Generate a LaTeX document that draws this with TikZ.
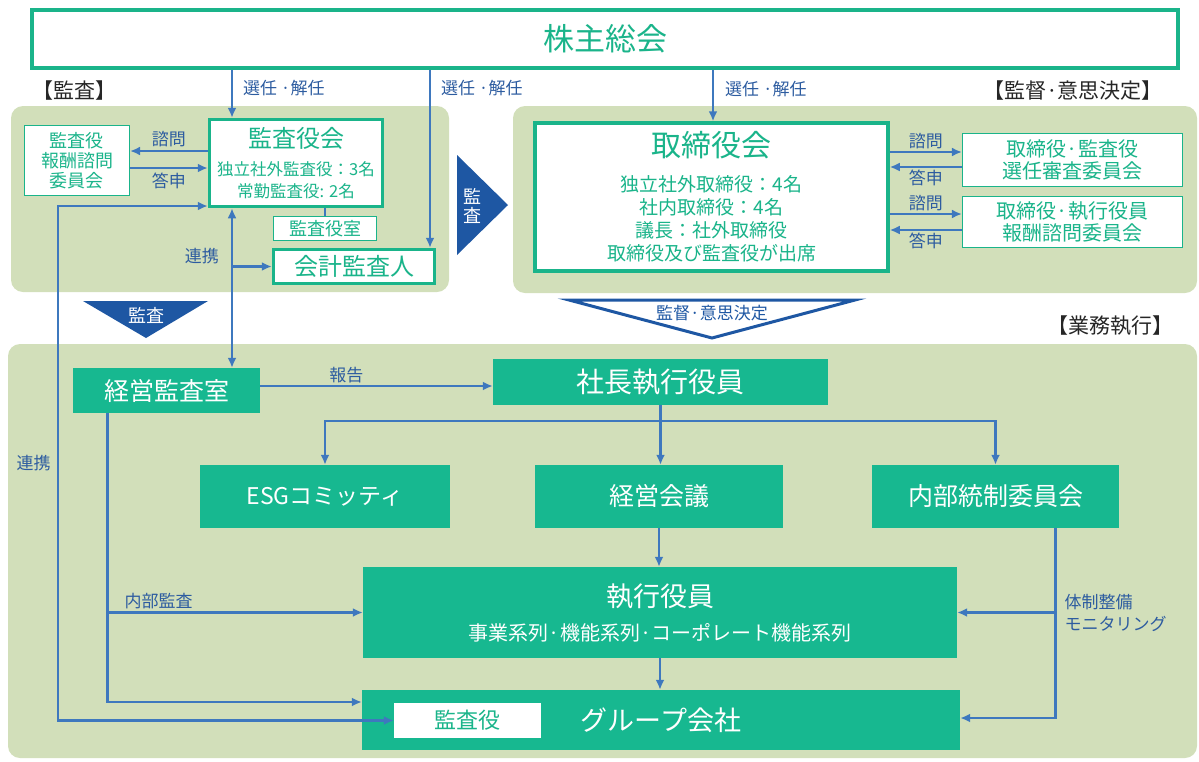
\documentclass[tikz,border=0pt]{standalone}
\usepackage{fontspec}
\setmainfont{Noto Sans CJK JP}
\usepackage{tikz}
\usetikzlibrary{positioning}
\usetikzlibrary{arrows.meta}
\definecolor{tealColor}{RGB}{23,184,144}
\definecolor{borderColor}{RGB}{26,180,138}
\definecolor{panelColor}{RGB}{210,223,186}
\definecolor{arrowColor}{RGB}{62,120,190}
\definecolor{labelColor}{RGB}{45,92,160}
\definecolor{triColor}{RGB}{30,87,163}

\begin{document}
\begin{tikzpicture}[x=1pt,y=-1pt]

            \tikzstyle{greenFrame} = [draw=borderColor, line width=3.5pt, fill=white, text=borderColor, inner sep=0pt, align=center];
            \tikzstyle{thinFrame} = [draw=borderColor, line width=1.2pt, fill=white, text=borderColor, inner sep=0pt, align=center];
            \tikzstyle{tealBox} = [fill=tealColor, text=white, inner sep=0pt, align=center];
            \tikzstyle{blueLine} = [arrowColor, line width=2.4pt];
            \tikzstyle{blueArrow} = [blueLine, -{Latex[length=10pt,width=9pt]}];
            \tikzstyle{blueArrows} = [blueLine, {Latex[length=10pt,width=9pt]}-{Latex[length=10pt,width=9pt]}];
            \tikzstyle{blueLabel} = [text=labelColor, font=\fontsize{17}{22}\selectfont, inner sep=2pt, align=left];
            \tikzstyle{headLabel} = [text=black!85, font=\fontsize{21}{21}\selectfont, inner sep=0pt];

            \useasboundingbox (0,0) rectangle (1199,761);

            \fill[panelColor, rounded corners=12pt] (11,106) rectangle (449,292);
            \fill[panelColor, rounded corners=12pt] (513,106) rectangle (1197,293);
            \fill[panelColor, rounded corners=12pt] (8,344) rectangle (1197,758);

            \node[greenFrame, minimum width=1146, minimum height=58, font=\fontsize{31}{31}\selectfont] (meeting) at (605,39) {株主総会};

            \node[headLabel] (auditHead) at (74,91) {【監査】};
            \node[headLabel] (superHead) at (1073,91) {【監督·意思決定】};
            \node[headLabel] (execHead) at (1110,326) {【業務執行】};

            \node[greenFrame, minimum width=173, minimum height=87, font=\fontsize{16.5}{22}\selectfont] (auditBoard) at (296,163)
              {{\fontsize{24}{24}\selectfont 監査役会}\\[6pt]独立社外監査役：3名\\常勤監査役: 2名};
            \node[thinFrame, minimum width=105, minimum height=70, font=\fontsize{18}{20}\selectfont] (auditComm) at (77,160.5) {監査役\\報酬諮問\\委員会};
            \node[thinFrame, minimum width=103, minimum height=24, font=\fontsize{18}{18}\selectfont] (auditRoom) at (325,228.5) {監査役室};
            \node[greenFrame, minimum width=161, minimum height=34, font=\fontsize{24}{24}\selectfont] (accountAuditor) at (354,266.5) {会計監査人};

            \node[greenFrame, minimum width=353, minimum height=148, font=\fontsize{19}{23}\selectfont] (board) at (711.5,197)
              {{\fontsize{30}{30}\selectfont 取締役会}\\[12pt]独立社外取締役：4名\\社内取締役：4名\\議長：社外取締役\\取締役及び監査役が出席};
            \node[thinFrame, minimum width=220, minimum height=53, font=\fontsize{20}{22}\selectfont] (nomComm) at (1072.5,160) {取締役·監査役\\選任審査委員会};
            \node[thinFrame, minimum width=220, minimum height=51, font=\fontsize{20}{22}\selectfont] (payComm) at (1072.5,222) {取締役·執行役員\\報酬諮問委員会};

            \fill[triColor] (457,155) -- (457,255) -- (508,205) -- cycle;
            \node[text=white, font=\fontsize{18}{19}\selectfont, align=center, inner sep=0pt] (auditMark) at (472,206) {監\\査};
            \fill[triColor] (83,301) -- (208,301) -- (146,338) -- cycle;
            \node[text=white, font=\fontsize{18}{18}\selectfont, inner sep=0pt] (auditMarkDown) at (146,315) {監査};
            \draw[triColor, line width=3pt, fill=white, line join=miter] (569,300) -- (855,300) -- (712,338) -- cycle;
            \node[text=triColor, font=\fontsize{17}{17}\selectfont, inner sep=0pt] (superMark) at (712,313) {監督·意思決定};

            \node[tealBox, minimum width=187, minimum height=45, font=\fontsize{25}{25}\selectfont] (mgmtAudit) at (166.5,390.5) {経営監査室};
            \node[tealBox, minimum width=335, minimum height=46, font=\fontsize{28}{28}\selectfont] (president) at (660.5,382) {社長執行役員};
            \node[tealBox, minimum width=250, minimum height=63, font=\fontsize{23}{23}\selectfont] (esg) at (325,496.5) {ESGコミッティ};
            \node[tealBox, minimum width=248, minimum height=63, font=\fontsize{25}{25}\selectfont] (mgmtMeeting) at (659,496.5) {経営会議};
            \node[tealBox, minimum width=247, minimum height=63, font=\fontsize{25}{25}\selectfont] (internalCtrl) at (995.5,496.5) {内部統制委員会};
            \node[tealBox, minimum width=594, minimum height=91, font=\fontsize{20}{24}\selectfont] (officers) at (660,612.5)
              {{\fontsize{27}{27}\selectfont 執行役員}\\[10pt]事業系列·機能系列·コーポレート機能系列};
            \node[tealBox, minimum width=598, minimum height=60, font=\fontsize{27}{27}\selectfont] (group) at (661,720) {グループ会社};
            \node[fill=white, text=borderColor, minimum width=147, minimum height=35, inner sep=0pt, font=\fontsize{22}{22}\selectfont] (groupAuditor) at (467.5,720.5) {監査役};

            \draw[blueArrow] ([xshift=-64]auditBoard.north |- meeting.south) -- ([xshift=-64]auditBoard.north)
              node[blueLabel, right, pos=0.375, xshift=8]{選任 ·解任};
            \draw[blueArrow] ([xshift=76]accountAuditor.north |- meeting.south) -- ([xshift=76]accountAuditor.north)
              node[blueLabel, right, pos=0.1, xshift=8]{選任 ·解任};
            \draw[blueArrow] ([xshift=1.5]board.north |- meeting.south) -- ([xshift=1.5]board.north)
              node[blueLabel, right, pos=0.375, xshift=9]{選任 ·解任};

            \draw[blueArrow] ([yshift=12]auditBoard.west) -- ([yshift=12]auditBoard.west -| auditComm.east) node[blueLabel, midway, above, yshift=1]{諮問};
            \draw[blueArrow] ([yshift=-5]auditBoard.west -| auditComm.east) -- ([yshift=-5]auditBoard.west) node[blueLabel, midway, below, yshift=-2]{答申};

            \draw[blueArrow] ([yshift=8]nomComm.west -| board.east) -- ([yshift=8]nomComm.west) node[blueLabel, midway, above]{諮問};
            \draw[blueArrow] ([yshift=-7]nomComm.west) -- ([yshift=-7]nomComm.west -| board.east) node[blueLabel, midway, below]{答申};
            \draw[blueArrow] ([yshift=8]payComm.west -| board.east) -- ([yshift=8]payComm.west) node[blueLabel, midway, above]{諮問};
            \draw[blueArrow] ([yshift=-8]payComm.west) -- ([yshift=-8]payComm.west -| board.east) node[blueLabel, midway, below]{答申};

            \draw[blueLine] (auditRoom.north) -- (auditRoom.north |- auditBoard.south);

            \draw[blueArrows] ([xshift=-64]auditBoard.south) -- ([xshift=-64]auditBoard.south |- mgmtAudit.north);
            \draw[blueArrow] ([xshift=-64]auditBoard.south |- accountAuditor.west) node[blueLabel, anchor=east, xshift=-10, yshift=10]{連携} -- (accountAuditor.west);
            \draw[blueArrows] ([yshift=-43]auditBoard.west) -- ++(-150,0) |- node[blueLabel, left, pos=0.25, xshift=-4]{連携} (groupAuditor.west);

            \draw[blueArrow] ([yshift=4.5]mgmtAudit.east) -- ([yshift=4.5]mgmtAudit.east -| president.west) node[blueLabel, above, pos=0.37]{報告};
            \draw[blueArrow] ([xshift=-59]mgmtAudit.south) |- node[blueLabel, above, pos=0.6]{内部監査} (officers.west);
            \draw[blueArrow] ([xshift=-59]mgmtAudit.south) |- ([yshift=18]group.west);

            \draw[blueArrow] (president.south) -- (president.south |- mgmtMeeting.north);
            \draw[blueArrow] ([yshift=-16]president.south) -| (esg.north);
            \draw[blueArrow] ([yshift=-16]president.south) -| (internalCtrl.north);
            \draw[blueArrow] (mgmtMeeting.south) -- (mgmtMeeting.south |- officers.north);
            \draw[blueArrow] (officers.south) -- (officers.south |- group.north);

            \draw[blueArrow] ([xshift=60]internalCtrl.south) |- node[blueLabel, anchor=west, pos=0.5, xshift=6]{体制整備\\モニタリング} (officers.east);
            \draw[blueArrow] ([xshift=60]internalCtrl.south) |- ([yshift=2]group.east);
          \end{tikzpicture}
\end{document}
